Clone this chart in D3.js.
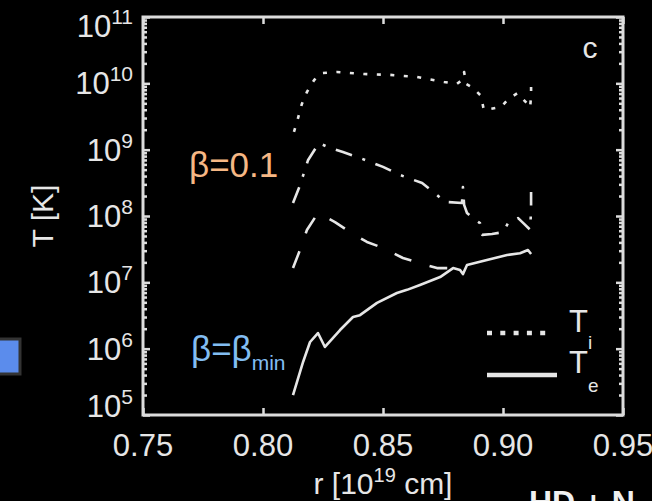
<!DOCTYPE html>
<html>
<head>
<meta charset="utf-8">
<script src="https://cdn.jsdelivr.net/npm/d3@7"></script>
<style>
  body { margin: 0; background: #000; }
  svg { display: block; }
  text { font-family: "Liberation Sans", Arial, Helvetica, sans-serif; }
</style>
</head>
<body>
<div id="chart_container"></div>
<script>
// radius in 1e19 cm, temperature in K
const tiR = [0.8129, 0.8146, 0.8162, 0.8183, 0.8213, 0.8246, 0.8308, 0.842, 0.853, 0.864, 0.8754, 0.8808, 0.8829, 0.8838, 0.8846, 0.8875, 0.8908, 0.892, 0.8946, 0.8992, 0.902, 0.906, 0.910, 0.9113, 0.9117, 0.9117]
const tiT = [1.85e9, 3.0e9, 4.9e9, 7.4e9, 1.12e10, 1.43e10, 1.48e10, 1.38e10, 1.34e10, 1.25e10, 1.05e10, 9.8e9, 1.12e10, 1.48e10, 9.8e9, 8.5e9, 6.5e9, 4.0e9, 4.1e9, 4.4e9, 5.7e9, 7.1e9, 5.0e9, 4.3e9, 6.5e9, 1.0e10]

const ddR = [0.8125, 0.8154, 0.8188, 0.8233, 0.8279, 0.8333, 0.8404, 0.85, 0.8571, 0.8663, 0.8725, 0.8758, 0.8829, 0.8833, 0.8838, 0.885, 0.8875, 0.8904, 0.8913, 0.8954, 0.9, 0.9021, 0.9063, 0.9088, 0.9113, 0.9117, 0.9117]
const ddT = [1.57e8, 2.9e8, 7.0e8, 1.26e9, 1.06e9, 9.2e8, 7.5e8, 5.5e8, 4.15e8, 3.14e8, 2.07e8, 1.63e8, 1.57e8, 2.74e8, 1.47e8, 1.11e8, 9.3e7, 7.8e7, 5.2e7, 5.35e7, 5.7e7, 7.8e7, 9.3e7, 7.6e7, 6.2e7, 1.23e8, 2.3e8]

const dsR = [0.8125, 0.8154, 0.8183, 0.8229, 0.83, 0.8363, 0.8433, 0.85, 0.8583, 0.8654, 0.8725, 0.8779, 0.8833]
const dsT = [1.64e7, 3.07e7, 6.15e7, 1.11e8, 8.1e7, 5.7e7, 4.06e7, 3.3e7, 2.33e7, 1.95e7, 1.64e7, 1.64e7, 1.64e7]

const teR = [0.8125, 0.8167, 0.8196, 0.8229, 0.8258, 0.8321, 0.8375, 0.8404, 0.8475, 0.8558, 0.86, 0.8654, 0.8738, 0.8792, 0.8821, 0.8833, 0.885, 0.8933, 0.9017, 0.9071, 0.9104, 0.9117]
const teT = [2.0e5, 6.3e5, 1.26e6, 1.72e6, 1.06e6, 1.91e6, 3.0e6, 3.2e6, 4.9e6, 6.9e6, 7.7e6, 9.1e6, 1.2e7, 1.64e7, 1.53e7, 1.33e7, 1.82e7, 2.17e7, 2.58e7, 2.75e7, 3.07e7, 2.67e7]

const xTicks = [0.75, 0.80, 0.85, 0.90, 0.95]
const yTicks = [1e5, 1e6, 1e7, 1e8, 1e9, 1e10, 1e11]

const w = 652, h = 501
const padL = 143, padR = 623, padT = 17, padB = 415
const lineColor = "#e6e6e6", axisColor = "#dcdcdc", textColor = "#e6e6e6"

const svg = d3.select("#chart_container")
              .append("svg")
              .attr("width", w)
              .attr("height", h)
              .style("background", "#000")

const xScale = d3.scaleLinear()
                 .domain([0.75, 0.95])
                 .range([padL, padR])
const yScale = d3.scaleLog()
                 .domain([1e5, 1e11])
                 .range([padB, padT])

// minor ticks 2..9 x 10^k
const minor = []
for (let k = 5; k < 11; k++) {
  for (let m = 2; m < 10; m++) minor.push(m * Math.pow(10, k))
}

// ticks (inward) on all four sides
svg.append("g").attr("transform", "translate(0," + padB + ")")
   .call(d3.axisBottom(xScale).tickValues(xTicks).tickSize(-7).tickFormat(""))
svg.append("g").attr("transform", "translate(0," + padT + ")")
   .call(d3.axisTop(xScale).tickValues(xTicks).tickSize(-7).tickFormat(""))
svg.append("g").attr("transform", "translate(" + padL + ",0)")
   .call(d3.axisLeft(yScale).tickValues(yTicks).tickSize(-7).tickFormat(""))
svg.append("g").attr("transform", "translate(" + padR + ",0)")
   .call(d3.axisRight(yScale).tickValues(yTicks).tickSize(-7).tickFormat(""))
svg.append("g").attr("transform", "translate(" + padL + ",0)")
   .call(d3.axisLeft(yScale).tickValues(minor).tickSize(-4).tickFormat(""))
svg.append("g").attr("transform", "translate(" + padR + ",0)")
   .call(d3.axisRight(yScale).tickValues(minor).tickSize(-4).tickFormat(""))

svg.selectAll(".domain").remove()
svg.selectAll(".tick line").attr("stroke", axisColor).attr("stroke-width", 2.5)

svg.append("rect")
   .attr("x", padL).attr("y", padT)
   .attr("width", padR - padL).attr("height", padB - padT)
   .attr("fill", "none")
   .attr("stroke", axisColor)
   .attr("stroke-width", 3)

// tick labels
svg.append("g").selectAll("text")
   .data(xTicks)
   .join("text")
   .attr("x", d => xScale(d))
   .attr("y", padB + 19)
   .attr("dy", "0.71em")
   .attr("text-anchor", "middle")
   .attr("font-size", 31)
   .attr("fill", textColor)
   .text(d => d3.format(".2f")(d))

const yl = svg.append("g").selectAll("text")
   .data(yTicks)
   .join("text")
   .attr("x", padL - 10)
   .attr("y", d => Math.min(Math.max(yScale(d), padT + 9), padB - 9))
   .attr("dy", "0.36em")
   .attr("text-anchor", "end")
   .attr("font-size", 31)
   .attr("fill", textColor)
yl.append("tspan").text("10")
yl.append("tspan").attr("font-size", 21).attr("dy", -13).text(d => Math.round(Math.log10(d)))

// axis titles
const xt = svg.append("text")
   .attr("x", xScale(0.85)).attr("y", 494)
   .attr("text-anchor", "middle")
   .attr("font-size", 30)
   .attr("fill", textColor)
xt.append("tspan").text("r [10")
xt.append("tspan").attr("font-size", 20).attr("dy", -12).text("19")
xt.append("tspan").attr("dy", 12).text(" cm]")

svg.append("text")
   .attr("transform", "translate(53," + yScale(1e8) + ") rotate(-90)")
   .attr("text-anchor", "middle")
   .attr("font-size", 30)
   .attr("fill", textColor)
   .text("T [K]")

// curves
const line = d3.line()
               .x(d => xScale(d[0]))
               .y(d => yScale(d[1]))

const series = [
  { r: tiR, t: tiT, dash: "4,9.5" },
  { r: ddR, t: ddT, dash: "17,11,3,11" },
  { r: dsR, t: dsT, dash: "18,19" },
  { r: teR, t: teT, dash: null }
]

svg.append("g").selectAll("path")
   .data(series)
   .join("path")
   .attr("d", s => line(d3.zip(s.r, s.t)))
   .attr("fill", "none")
   .attr("stroke", lineColor)
   .attr("stroke-width", 2.6)
   .attr("stroke-dasharray", s => s.dash)
   .attr("stroke-linejoin", "round")

// panel letter
svg.append("text")
   .attr("x", 590).attr("y", 58)
   .attr("text-anchor", "middle")
   .attr("font-size", 30)
   .attr("fill", textColor)
   .text("c")

// legend
const leg = svg.append("g")
leg.append("line").attr("x1", 487).attr("x2", 547).attr("y1", 333).attr("y2", 333)
   .attr("stroke", lineColor).attr("stroke-width", 4.5).attr("stroke-dasharray", "5,8.3")
leg.append("line").attr("x1", 487).attr("x2", 557).attr("y1", 375).attr("y2", 375)
   .attr("stroke", lineColor).attr("stroke-width", 4.5)
const lt1 = leg.append("text").attr("x", 569).attr("y", 332)
   .attr("font-size", 31).attr("fill", textColor)
lt1.append("tspan").text("T")
lt1.append("tspan").attr("font-size", 19).attr("dy", 17).text("i")
const lt2 = leg.append("text").attr("x", 569).attr("y", 373)
   .attr("font-size", 31).attr("fill", textColor)
lt2.append("tspan").text("T")
lt2.append("tspan").attr("font-size", 19).attr("dy", 19).text("e")

// annotations
svg.append("text")
   .attr("x", 189).attr("y", 177)
   .attr("font-size", 35)
   .attr("fill", "#f6b784")
   .text("β=0.1")

const bm = svg.append("text")
   .attr("x", 191).attr("y", 361)
   .attr("font-size", 35)
   .attr("fill", "#82bdf2")
bm.append("tspan").text("β=β")
bm.append("tspan").attr("font-size", 21).attr("dy", 9).text("min")

// slide fragments around the panel
svg.append("rect")
   .attr("x", -4).attr("y", 339)
   .attr("width", 24).attr("height", 35)
   .attr("fill", "#5b8cec")
   .attr("stroke", "#333")
   .attr("stroke-width", 3)

svg.append("text")
   .attr("x", 529).attr("y", 513)
   .attr("font-size", 32)
   .attr("font-weight", "bold")
   .attr("fill", "#f0f0f0")
   .text("HD + N")
</script>
</body>
</html>
